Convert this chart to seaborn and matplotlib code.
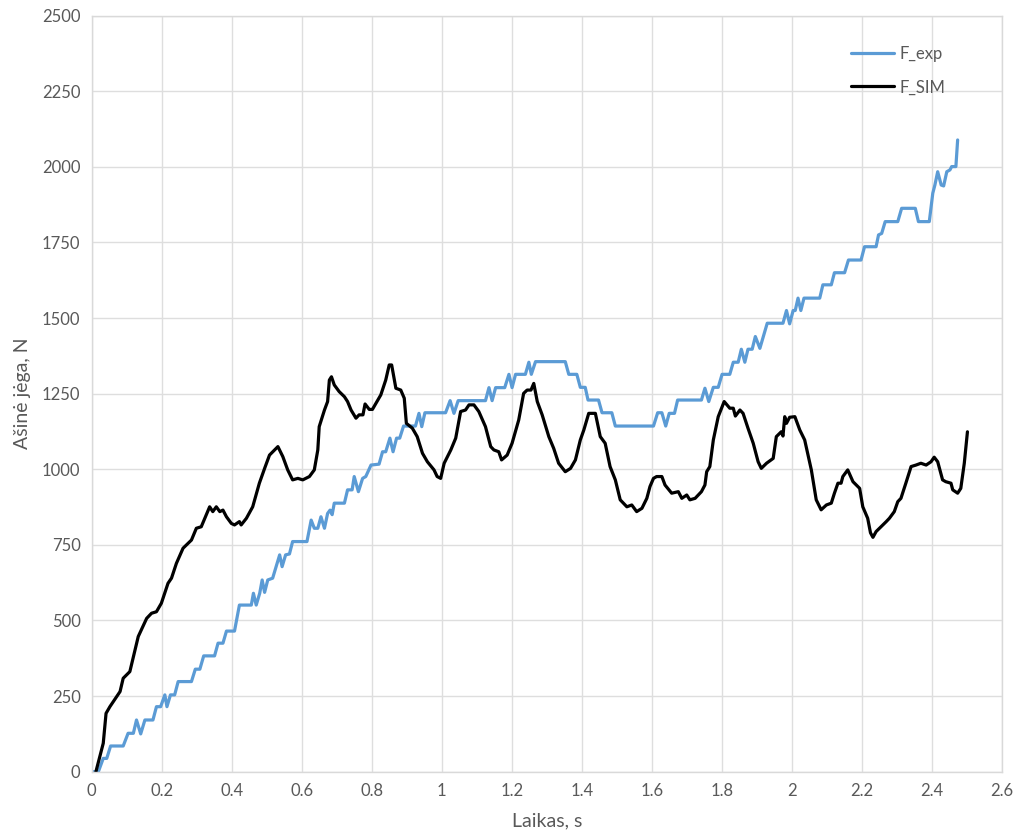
import pandas as pd
import seaborn as sns
import matplotlib.pyplot as plt

# F_SIM (black)
t_sim = [0.012, 0.033, 0.041, 0.052, 0.081, 0.090, 0.109, 0.133, 0.157, 0.171, 0.185, 0.199,
         0.218, 0.228, 0.242, 0.261, 0.275, 0.285, 0.299, 0.313, 0.337, 0.346, 0.356, 0.366,
         0.375, 0.385, 0.399, 0.408, 0.422, 0.427, 0.442, 0.460, 0.479, 0.494, 0.508, 0.532,
         0.546, 0.560, 0.574, 0.589, 0.603, 0.622, 0.636, 0.646, 0.650, 0.665, 0.674, 0.679,
         0.685, 0.693, 0.707, 0.722, 0.731, 0.741, 0.755, 0.764, 0.775, 0.781, 0.793, 0.802,
         0.826, 0.840, 0.850, 0.857, 0.869, 0.883, 0.893, 0.899, 0.916, 0.930, 0.945, 0.959,
         0.978, 0.987, 0.997, 1.007, 1.026, 1.040, 1.054, 1.068, 1.078, 1.092, 1.106, 1.125,
         1.140, 1.149, 1.163, 1.171, 1.187, 1.201, 1.220, 1.234, 1.244, 1.255, 1.263, 1.273,
         1.287, 1.306, 1.320, 1.334, 1.353, 1.368, 1.382, 1.396, 1.406, 1.420, 1.439, 1.453,
         1.467, 1.481, 1.496, 1.510, 1.529, 1.543, 1.557, 1.572, 1.586, 1.595, 1.605, 1.614,
         1.629, 1.638, 1.657, 1.676, 1.686, 1.700, 1.709, 1.724, 1.742, 1.752, 1.757, 1.766,
         1.776, 1.790, 1.807, 1.823, 1.833, 1.839, 1.852, 1.861, 1.875, 1.890, 1.904, 1.913,
         1.928, 1.947, 1.956, 1.970, 1.975, 1.980, 1.985, 1.994, 2.009, 2.023, 2.037, 2.056,
         2.070, 2.084, 2.099, 2.113, 2.122, 2.132, 2.141, 2.146, 2.160, 2.175, 2.194, 2.203,
         2.217, 2.225, 2.232, 2.241, 2.255, 2.270, 2.279, 2.293, 2.303, 2.312, 2.326, 2.341,
         2.355, 2.369, 2.384, 2.398, 2.407, 2.417, 2.431, 2.440, 2.455, 2.460, 2.474, 2.483,
         2.493, 2.502]
f_sim = [0, 94, 193, 215, 265, 309, 331, 447, 507, 524, 529, 557,
         623, 640, 689, 739, 755, 766, 805, 810, 876, 860, 876, 860,
         865, 843, 821, 816, 827, 816, 838, 876, 954, 1003, 1047, 1075,
         1042, 998, 965, 970, 965, 976, 998, 1064, 1141, 1196, 1224, 1295,
         1306, 1279, 1257, 1240, 1224, 1196, 1169, 1180, 1180, 1216, 1198, 1198,
         1246, 1295, 1345, 1345, 1268, 1262, 1235, 1152, 1136, 1108, 1053, 1025,
         998, 976, 970, 1020, 1064, 1103, 1191, 1196, 1213, 1213, 1191, 1141,
         1075, 1064, 1058, 1031, 1047, 1086, 1163, 1251, 1262, 1262, 1284, 1224,
         1180, 1108, 1069, 1020, 992, 1003, 1031, 1097, 1130, 1185, 1185, 1108,
         1086, 1009, 965, 899, 876, 882, 860, 871, 904, 943, 970, 976,
         976, 948, 921, 926, 904, 915, 899, 904, 926, 948, 992, 1009,
         1097, 1174, 1224, 1202, 1202, 1176, 1196, 1185, 1136, 1086, 1025, 1003,
         1020, 1036, 1108, 1124, 1110, 1174, 1152, 1172, 1174, 1130, 1097, 998,
         899, 866, 882, 888, 921, 954, 954, 976, 998, 959, 937, 876,
         838, 790, 775, 794, 810, 827, 838, 860, 893, 904, 954, 1009,
         1014, 1020, 1014, 1025, 1040, 1025, 965, 959, 954, 932, 921, 937,
         1020, 1124]

# F_exp (blue)
t_exp = [0.005, 0.019, 0.033, 0.043, 0.054, 0.090, 0.104, 0.119, 0.128, 0.140, 0.152, 0.175,
         0.185, 0.197, 0.209, 0.215, 0.225, 0.237, 0.247, 0.285, 0.296, 0.309, 0.320, 0.351,
         0.361, 0.375, 0.385, 0.408, 0.422, 0.456, 0.462, 0.470, 0.480, 0.487, 0.494, 0.503,
         0.517, 0.527, 0.537, 0.544, 0.554, 0.565, 0.574, 0.615, 0.627, 0.636, 0.646, 0.655,
         0.665, 0.674, 0.681, 0.687, 0.693, 0.722, 0.731, 0.744, 0.750, 0.762, 0.774, 0.783,
         0.798, 0.821, 0.831, 0.840, 0.852, 0.861, 0.871, 0.880, 0.891, 0.912, 0.925, 0.935,
         0.943, 0.952, 1.011, 1.024, 1.035, 1.047, 1.125, 1.135, 1.144, 1.154, 1.180, 1.192,
         1.201, 1.211, 1.239, 1.249, 1.256, 1.268, 1.353, 1.363, 1.386, 1.396, 1.410, 1.418,
         1.448, 1.458, 1.486, 1.496, 1.605, 1.617, 1.629, 1.640, 1.650, 1.665, 1.674, 1.742,
         1.752, 1.763, 1.776, 1.790, 1.801, 1.823, 1.833, 1.847, 1.856, 1.866, 1.875, 1.887,
         1.896, 1.909, 1.930, 1.975, 1.985, 1.994, 2.004, 2.010, 2.018, 2.026, 2.035, 2.080,
         2.089, 2.113, 2.122, 2.151, 2.162, 2.198, 2.208, 2.241, 2.248, 2.257, 2.267, 2.303,
         2.314, 2.353, 2.362, 2.393, 2.403, 2.409, 2.417, 2.427, 2.434, 2.443, 2.452, 2.457,
         2.469, 2.474]
f_exp = [0, 0, 44, 44, 85, 85, 127, 127, 171, 125, 171, 171,
         215, 215, 254, 215, 254, 254, 298, 298, 339, 339, 383, 383,
         425, 425, 465, 465, 551, 551, 590, 551, 590, 634, 593, 634,
         640, 678, 717, 678, 717, 720, 761, 761, 832, 805, 805, 843,
         805, 854, 865, 850, 888, 888, 932, 932, 976, 926, 970, 976,
         1014, 1017, 1058, 1058, 1103, 1058, 1103, 1103, 1143, 1143, 1143, 1185,
         1141, 1187, 1187, 1227, 1185, 1227, 1227, 1270, 1227, 1270, 1270, 1314,
         1270, 1314, 1314, 1354, 1314, 1356, 1356, 1314, 1314, 1271, 1271, 1229,
         1229, 1187, 1187, 1143, 1143, 1187, 1187, 1143, 1185, 1185, 1229, 1229,
         1268, 1224, 1271, 1271, 1314, 1314, 1354, 1354, 1397, 1354, 1397, 1397,
         1439, 1400, 1483, 1483, 1525, 1481, 1525, 1525, 1566, 1525, 1566, 1566,
         1610, 1610, 1650, 1650, 1692, 1692, 1736, 1736, 1775, 1780, 1819, 1819,
         1863, 1863, 1819, 1819, 1913, 1940, 1984, 1940, 1937, 1984, 1990, 2001,
         2001, 2089]

x_ticks = [0, 0.2, 0.4, 0.6, 0.8, 1, 1.2, 1.4, 1.6, 1.8, 2, 2.2, 2.4, 2.6]
x_labels = ['0', '0.2', '0.4', '0.6', '0.8', '1', '1.2', '1.4', '1.6', '1.8', '2', '2.2', '2.4', '2.6']
y_ticks = [0, 250, 500, 750, 1000, 1250, 1500, 1750, 2000, 2250, 2500]

sns.set_style('white')
plt.rcParams['font.family'] = ['Lato', 'DejaVu Sans']

exp_df = pd.DataFrame({'t': t_exp, 'F': f_exp})
sim_df = pd.DataFrame({'t': t_sim, 'F': f_sim})

fig = plt.figure(figsize=(10.2, 8.34), dpi=100)
ax = fig.add_axes([0.0899, 0.0747, 0.8922, 0.9065])

sns.lineplot(data=exp_df, x='t', y='F', ax=ax, color='#5B9BD5', lw=2.3,
             estimator=None, sort=False, label='F_exp')
sns.lineplot(data=sim_df, x='t', y='F', ax=ax, color='black', lw=2.3,
             estimator=None, sort=False, label='F_SIM')

ax.set_xlim(0, 2.6)
ax.set_ylim(0, 2500)
ax.set_xticks(x_ticks)
ax.set_xticklabels(x_labels)
ax.set_yticks(y_ticks)
ax.grid(True, color='#dedede', lw=1)
ax.set_axisbelow(True)
for s in ax.spines.values():
    s.set_color('#d9d9d9')
    s.set_linewidth(1)
ax.tick_params(length=0, labelsize=12, colors='#595959', pad=8)

ax.set_xlabel('Laikas, s', fontsize=14, color='#595959', labelpad=10)
ax.set_ylabel('Ašinė jėga, N', fontsize=14, color='#595959', labelpad=8)

leg = ax.legend(loc='upper left', bbox_to_anchor=(0.818, 0.98), frameon=False,
                fontsize=12, handlelength=2.6, labelspacing=1.05, handletextpad=0.3)
for txt in leg.get_texts():
    txt.set_color('#595959')

plt.savefig('out.png', dpi=100)
plt.close()
